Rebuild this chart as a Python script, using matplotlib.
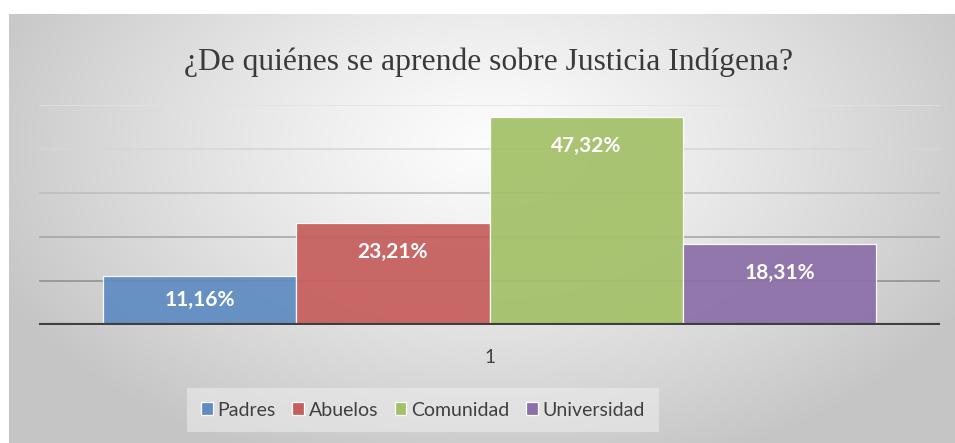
import numpy as np
import matplotlib
matplotlib.use("Agg")
import matplotlib.pyplot as plt

title = "¿De quiénes se aprende sobre Justicia Indígena?"
series = ["Padres", "Abuelos", "Comunidad", "Universidad"]
values = [11.16, 23.21, 47.32, 18.31]
labels = ["11,16%", "23,21%", "47,32%", "18,31%"]
colors = ["#5f8cc2", "#c65e5c", "#a3c168", "#8b6fa8"]
category = ["1"]
yticks = [10, 20, 30, 40, 50]
grid_colors = ["#8c8c8c", "#a2a2a2", "#bdbdbd", "#d6d6d6", "#e2e2e2"]

W, H = 955, 443
fig = plt.figure(figsize=(W / 100, H / 100), dpi=100, facecolor="white")

# background radial gradient
bg = fig.add_axes([9 / W, 0, (W - 9) / W, (H - 14) / H])
bw, bh = W - 9, H - 14
yy, xx = np.mgrid[0:bh, 0:bw]
cx, cy = 480, 130
r = np.sqrt(((xx - cx) / 540.0) ** 2 + ((yy - cy) / 340.0) ** 2)
r = np.clip(r, 0, 1)
val = 0.99 - (0.99 - 0.775) * r ** 1.2
img = np.dstack([val, val, val])
bg.imshow(img, aspect="auto", extent=[0, 1, 0, 1], origin="upper")
bg.set_axis_off()

# main axes
ax = fig.add_axes([39 / W, (H - 325) / H, 901 / W, 220 / H])
ax.patch.set_alpha(0)
ax.set_xlim(-0.5, 0.5)
ax.set_ylim(0, 50)
for s in ax.spines.values():
    s.set_visible(False)
for yv, gc in zip(yticks, grid_colors):
    ax.axhline(yv, color=gc, lw=1.1, zorder=1)

width = 0.2147
px_per_unit = 220 / 50.0
for i, (name, v, lab, c) in enumerate(zip(series, values, labels, colors)):
    x = (i - 1.5) * width
    ax.bar(x, v, width=width, color=c, alpha=0.93, edgecolor=(1, 1, 1, 0.7),
           linewidth=0.9, label=name, zorder=2)
    hpx = v * px_per_unit
    off = min(29, hpx / 2)
    ax.annotate(lab, (x, v), xytext=(0, -off * 0.72), textcoords="offset points",
                ha="center", va="center", color="white", fontsize=15,
                fontweight="bold", family="Lato", zorder=4)

ax.axhline(0, color="#3f3f3f", lw=3.0, zorder=3, solid_capstyle="butt")
ax.set_yticks([])
ax.set_xticks([0])
ax.set_xticklabels(category, fontsize=13.5, color="#404040", family="Lato")
ax.tick_params(axis="x", length=0, pad=17)

fig.text(488 / W, (H - 70) / H, title, ha="center", va="baseline",
         family="Liberation Serif", fontsize=22.8, color="#3a3a3a")

leg = fig.legend(loc="center", bbox_to_anchor=(423 / W, (H - 410) / H), ncol=4,
                 frameon=True, fancybox=False, prop={"family": "Lato", "size": 14},
                 handlelength=0.6, handleheight=0.6, handletextpad=0.25,
                 columnspacing=0.85, borderpad=0.7, borderaxespad=0)
leg.get_frame().set_facecolor("#ececec")
leg.get_frame().set_alpha(0.6)
leg.get_frame().set_edgecolor("none")
for t in leg.get_texts():
    t.set_color("#404040")
for h in leg.legend_handles:
    h.set_alpha(1)

fig.savefig("out.png", dpi=100, facecolor="white")
